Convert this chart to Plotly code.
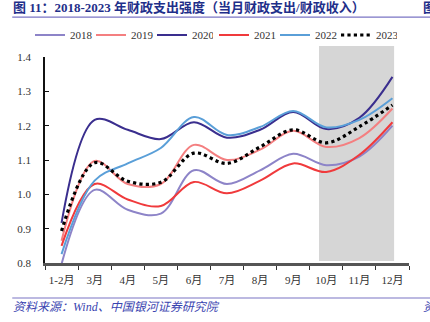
import plotly.graph_objects as go

months = ["1-2月", "3月", "4月", "5月", "6月", "7月", "8月", "9月", "10月", "11月", "12月"]
y2018 = [0.797, 1.013, 0.955, 0.944, 1.07, 1.03, 1.07, 1.118, 1.085, 1.11, 1.2]
y2019 = [0.865, 1.097, 1.03, 1.03, 1.144, 1.1, 1.13, 1.185, 1.138, 1.164, 1.25]
y2020 = [0.917, 1.217, 1.188, 1.161, 1.21, 1.165, 1.188, 1.24, 1.19, 1.223, 1.342]
y2021 = [0.85, 1.03, 0.985, 0.966, 1.036, 1.003, 1.04, 1.09, 1.065, 1.115, 1.21]
y2022 = [0.826, 1.04, 1.09, 1.135, 1.225, 1.173, 1.196, 1.243, 1.195, 1.217, 1.28]
y2023 = [0.893, 1.092, 1.038, 1.035, 1.12, 1.09, 1.138, 1.188, 1.15, 1.197, 1.26]
yticks = [0.8, 0.9, 1.0, 1.1, 1.2, 1.3, 1.4]

series = [
    ("2018", y2018, "#8d84c8", "solid", 2, "legend"),
    ("2019", y2019, "#f47f80", "solid", 2, "legend"),
    ("2020", y2020, "#3a2e8e", "solid", 2, "legend"),
    ("2021", y2021, "#f03a3c", "solid", 2, "legend2"),
    ("2022", y2022, "#5a9fd8", "solid", 2, "legend2"),
    ("2023", y2023, "#000000", "dot", 3.2, "legend2"),
]

fig = go.Figure()
for name, ys, color, dash, w, lg in series:
    fig.add_trace(go.Scatter(
        x=months, y=ys, name=name, mode="lines", legend=lg,
        line=dict(color=color, width=w, dash=dash, shape="spline", smoothing=1.0),
    ))

serif = "Liberation Serif, Noto Sans CJK SC, serif"
legend_common = dict(orientation="h", xref="container", yref="container",
                     xanchor="left", y=1 - 35 / 322, yanchor="middle",
                     font=dict(family=serif, size=11, color="#333333"),
                     itemwidth=30, entrywidth=16, entrywidthmode="pixels",
                     tracegroupgap=0, bgcolor="rgba(0,0,0,0)")

fig.update_layout(
    width=430, height=322,
    margin=dict(l=45, r=21, t=57, b=59, autoexpand=False),
    paper_bgcolor="white", plot_bgcolor="white",
    font=dict(family=serif, size=11, color="#333333"),
    showlegend=True,
    legend=dict(x=30 / 430, **legend_common),
    legend2=dict(x=214 / 430, **legend_common),
    xaxis=dict(
        type="category", range=[-0.5, 10.5], showgrid=False,
        showline=True, linecolor="#555555", linewidth=2.5,
        ticks="outside", ticklen=4, tickcolor="#333333", tickwidth=1.2,
        tickson="boundaries", tickangle=0, ticklabelstandoff=5,
        tickfont=dict(family=serif, size=11, color="#333333"),
        zeroline=False,
    ),
    yaxis=dict(
        range=[0.8, 1.4], tickvals=yticks, ticktext=[f"{v:.1f}" for v in yticks],
        showgrid=False, showline=True, linecolor="#111111", linewidth=1.5,
        ticks="inside", ticklen=4, tickcolor="#111111", ticklabelstandoff=10,
        tickfont=dict(family=serif, size=11, color="#333333"), zeroline=False,
    ),
    shapes=[
        dict(type="rect", xref="x", yref="paper", x0=7.78, x1=10.05, y0=0.01, y1=1.053,
             fillcolor="#d6d6d6", line=dict(width=0), layer="below"),
        dict(type="line", xref="paper", yref="paper", x0=-0.09, x1=1.06, y0=1.194, y1=1.194,
             line=dict(color="#7a74c4", width=1.2)),
        dict(type="line", xref="paper", yref="paper", x0=-0.09, x1=1.06, y0=-0.17, y1=-0.17,
             line=dict(color="#7a74c4", width=1.2)),
    ],
    annotations=[
        dict(text="<b>图 11：2018-2023 年财政支出强度（当月财政支出/财政收入）</b>",
             xref="paper", yref="paper", x=-0.093, y=1.238, xanchor="left", yanchor="middle",
             showarrow=False, font=dict(family=serif, size=13, color="#1f2f8a")),
        dict(text="<b>图</b>", xref="paper", yref="paper", x=1.032, y=1.238, xanchor="left",
             yanchor="middle", showarrow=False, font=dict(family=serif, size=13, color="#1f2f8a")),
        dict(text="<i>资料来源：Wind、中国银河证券研究院</i>",
             xref="paper", yref="paper", x=-0.093, y=-0.213, xanchor="left", yanchor="middle",
             showarrow=False, font=dict(family=serif, size=12, color="#3a44b0")),
        dict(text="<i>资</i>", xref="paper", yref="paper", x=1.032, y=-0.213, xanchor="left",
             yanchor="middle", showarrow=False, font=dict(family=serif, size=12, color="#3a44b0")),
    ],
)

fig.write_html("out.html")
